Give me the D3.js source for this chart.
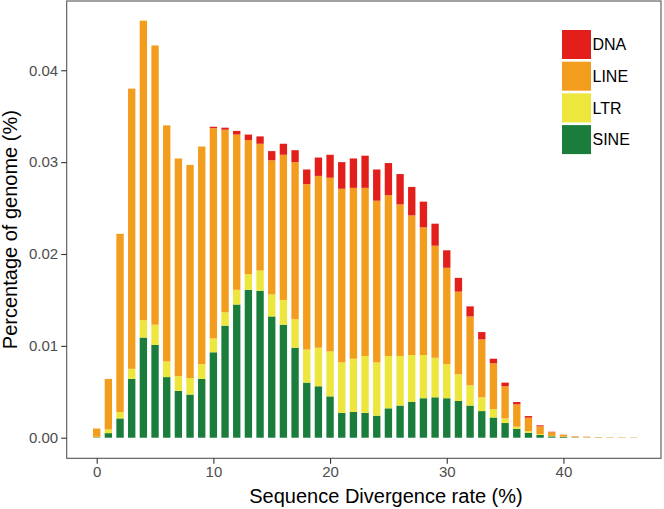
<!DOCTYPE html>
<html>
<head>
<meta charset="utf-8">
<script src="https://cdn.jsdelivr.net/npm/d3@7"></script>
<style>
  html, body { margin: 0; padding: 0; background: #fff; }
  svg { display: block; font-family: "Liberation Sans", Arial, sans-serif; }
</style>
</head>
<body>
<svg id="chart" width="664" height="509"></svg>
<script>
// ---- data ----
const rates = d3.range(0, 47);
const SINE = [0.00005,0.0005,0.0021,0.0064,0.0109,0.0101,0.0066,0.0051,0.0047,0.0064,
  0.0093,0.0122,0.0145,0.0161,0.0160,0.0132,0.0123,0.0098,0.0060,0.0056,
  0.0045,0.0027,0.0028,0.0027,0.0024,0.0032,0.0035,0.0039,0.0043,0.0044,
  0.0043,0.0040,0.0035,0.0029,0.0022,0.0016,0.00095,0.00054,0.0003,0.00015,
  0.00008,0.00003,0.00002,0.00002,0.00001,0.00001,0.00001];
const LTR = [0.00005,0.0004,0.0007,0.0011,0.0019,0.0022,0.0017,0.0016,0.0018,0.0016,
  0.0015,0.00145,0.0016,0.0017,0.0022,0.0024,0.0027,0.0031,0.0036,0.0042,
  0.0049,0.0055,0.0058,0.0062,0.0058,0.0057,0.0054,0.0051,0.0047,0.0043,
  0.0037,0.0029,0.0022,0.0015,0.0009,0.0005,0.00025,0.00019,0.0001,0.00005,
  0.00003,0.00001,0.00001,0.00001,0.00001,0,0];
const LINE = [0.0009,0.0055,0.0194,0.0305,0.0326,0.0304,0.0257,0.0237,0.0232,0.0237,
  0.0229,0.01988,0.0169,0.0146,0.0138,0.0146,0.0158,0.0171,0.0180,0.0187,
  0.0189,0.0189,0.0186,0.0183,0.0176,0.0175,0.0165,0.0152,0.0139,0.0122,
  0.0105,0.0090,0.0075,0.0063,0.0050,0.0035,0.00243,0.00145,0.00084,0.0004,
  0.0002,0.0001,0.00007,0.00005,0.00004,0.00004,0.00003];
const DNA = [0,0,0,0,0,0,0,0,0,0,
  0.00015,0.00022,0.0004,0.0006,0.0008,0.0010,0.0012,0.0013,0.0016,0.0020,
  0.0025,0.0029,0.0032,0.0035,0.0034,0.0035,0.0033,0.0031,0.0028,0.0024,
  0.0019,0.0015,0.0011,0.0008,0.0005,0.0004,0.00026,0.00018,0.00011,0.00005,
  0.00002,0.00001,0.00001,0,0,0,0];
const stackOrder = ["SINE","LTR","LINE","DNA"];      // bottom -> top
const legendOrder = ["DNA","LINE","LTR","SINE"];
const colors = {DNA:"#E31F1C", LINE:"#F39D1F", LTR:"#EDE63D", SINE:"#1A7D3C"};
const xTicks = [0,10,20,30,40];
const yTicks = [0,0.01,0.02,0.03,0.04];
const yTickLabels = ["0.00","0.01","0.02","0.03","0.04"];

const table = rates.map((r,i)=>({rate:r, SINE:SINE[i], LTR:LTR[i], LINE:LINE[i], DNA:DNA[i]}));

// ---- layout ----
const svg = d3.select("#chart");
const P = {left:66.7, right:661, top:1, bottom:458.3};

const x = d3.scaleLinear().domain([-2.571, 48.36]).range([P.left, P.right]);
const y = d3.scaleLinear().domain([-0.00224, 0.04754]).range([P.bottom, P.top]);
const barW = 0.63;

const series = d3.stack().keys(stackOrder)(table);

const g = svg.append("g");
g.selectAll("g.series").data(series).join("g")
  .attr("class","series")
  .attr("fill", d => colors[d.key])
  .selectAll("rect").data(d => d).join("rect")
  .attr("x", d => x(d.data.rate - barW/2))
  .attr("width", x(barW) - x(0))
  .attr("y", d => y(d[1]))
  .attr("height", d => Math.max(0, y(d[0]) - y(d[1])));

// panel border
svg.append("rect")
  .attr("x", P.left).attr("y", P.top)
  .attr("width", P.right - P.left).attr("height", P.bottom - P.top)
  .attr("fill","none").attr("stroke","#555").attr("stroke-width",1.1);

// axes
const xAxis = d3.axisBottom(x).tickValues(xTicks).tickSize(5.5).tickPadding(3);
const xg = svg.append("g").attr("transform",`translate(0,${P.bottom})`).call(xAxis);
xg.select(".domain").remove();
xg.selectAll(".tick line").attr("stroke","#333").attr("stroke-width",1.1);
xg.selectAll(".tick text").attr("fill","#4D4D4D").style("font-size","15px")
  .style("font-family","'Liberation Sans', Arial, sans-serif");

const yAxis = d3.axisLeft(y).tickValues(yTicks).tickFormat((d,i)=>yTickLabels[i]).tickSize(5.5).tickPadding(3);
const yg = svg.append("g").attr("transform",`translate(${P.left},0)`).call(yAxis);
yg.select(".domain").remove();
yg.selectAll(".tick line").attr("stroke","#333").attr("stroke-width",1.1);
yg.selectAll(".tick text").attr("fill","#4D4D4D").style("font-size","15px")
  .style("font-family","'Liberation Sans', Arial, sans-serif");

// axis titles
svg.append("text")
  .attr("x", 386).attr("y", 503)
  .attr("text-anchor","middle")
  .style("font-size","20px").attr("fill","#000")
  .text("Sequence Divergence rate (%)");

svg.append("text")
  .attr("transform", `translate(17,${(P.top+P.bottom)/2}) rotate(-90)`)
  .attr("text-anchor","middle")
  .style("font-size","20px").attr("fill","#000")
  .text("Percentage of genome (%)");

// legend
const lg = svg.append("g").attr("transform","translate(562,30)");
const keyS = 29, pitch = 31.7;
legendOrder.forEach((k,i)=>{
  lg.append("rect").attr("x",0).attr("y",i*pitch).attr("width",keyS).attr("height",keyS)
    .attr("fill",colors[k]);
  lg.append("text").attr("x",keyS+1.5).attr("y",i*pitch+keyS/2).attr("dy","0.35em")
    .style("font-size","16px").attr("fill","#000").text(k);
});
</script>
</body>
</html>
